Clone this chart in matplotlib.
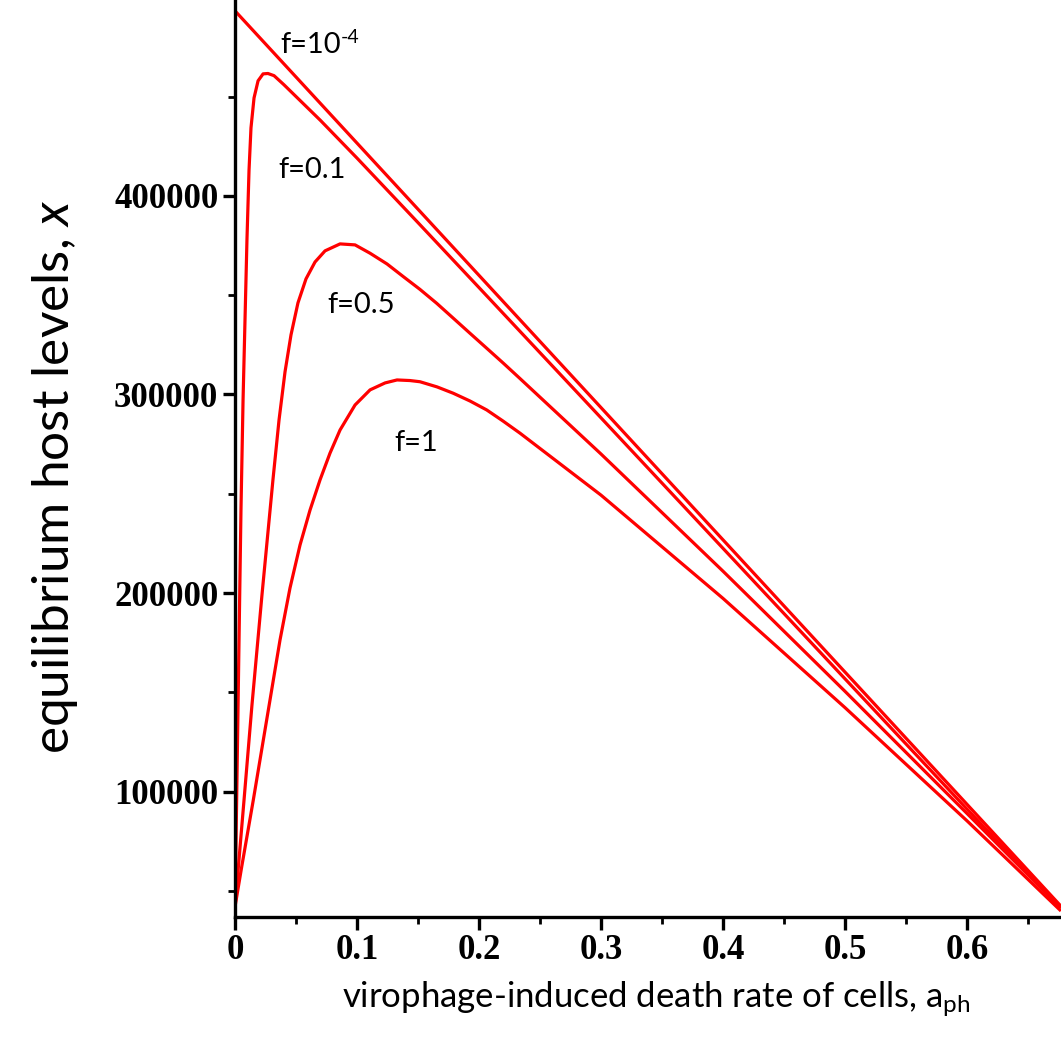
import matplotlib
matplotlib.use("Agg")
import matplotlib.pyplot as plt
from matplotlib.ticker import MultipleLocator

plt.rcParams["mathtext.fontset"] = "custom"
plt.rcParams["mathtext.rm"] = "Lato"
plt.rcParams["mathtext.it"] = "Lato:italic"

# ---- data ----
a_f0001 = [0.0, 0.0002, 0.676]
x_f0001 = [42000, 493000, 43000]

a_f01 = [0.0, 0.0016, 0.0033, 0.0049, 0.0066, 0.0082, 0.0098, 0.0115, 0.0131, 0.0156,
         0.0189, 0.023, 0.027, 0.032, 0.04, 0.05, 0.07, 0.1, 0.15, 0.2, 0.25, 0.3,
         0.4, 0.5, 0.6, 0.676]
x_f01 = [42000, 105900, 176400, 241900, 297200, 337500, 377800, 413000, 434200, 449300,
         457900, 461400, 461600, 460500, 456000, 450000, 438000, 419000, 386500, 353800,
         321000, 288200, 222500, 156800, 91200, 42000]

a_f05 = [0.0, 0.0074, 0.0139, 0.0221, 0.0311, 0.0361, 0.041, 0.0459, 0.0516, 0.0582,
         0.0656, 0.0738, 0.0861, 0.0984, 0.1107, 0.1246, 0.138, 0.1516, 0.1653, 0.1787,
         0.1926, 0.2066, 0.22, 0.2336, 0.3, 0.4, 0.5, 0.6, 0.676]
x_f05 = [42000, 95800, 143600, 199000, 257000, 287200, 311400, 330000, 346100, 358200,
         366700, 372300, 375800, 375300, 371100, 365700, 359300, 352900, 345900, 338500,
         330800, 323100, 315700, 308000, 270000, 211000, 150500, 89000, 42000]

a_f1 = [0.0, 0.0055, 0.015, 0.0287, 0.0369, 0.0451, 0.0533, 0.0615, 0.0697, 0.0779,
        0.0861, 0.0984, 0.1107, 0.123, 0.1328, 0.1434, 0.1516, 0.1656, 0.1789, 0.1926,
        0.2063, 0.2197, 0.2336, 0.3, 0.4, 0.5, 0.6, 0.676]
x_f1 = [42000, 62200, 95800, 146200, 176400, 202600, 224200, 241800, 257000, 270500,
        282100, 294700, 302300, 305800, 307300, 307000, 306400, 303800, 300600, 296700,
        292200, 286600, 280500, 249300, 197300, 142300, 85300, 40500]

series = [(a_f0001, x_f0001), (a_f01, x_f01), (a_f05, x_f05), (a_f1, x_f1)]

labels = ["f=10", "f=0.1", "f=0.5", "f=1"]
label_pos = [(0.0369, 476000), (0.0352, 413000), (0.0754, 345000), (0.131, 275600)]
exponent = "-4"

xticks = [0, 0.1, 0.2, 0.3, 0.4, 0.5, 0.6]
xticklabels = ["0", "0.1", "0.2", "0.3", "0.4", "0.5", "0.6"]
yticks = [100000, 200000, 300000, 400000]
yticklabels = ["100000", "200000", "300000", "400000"]

# ---- figure ----
fig = plt.figure(figsize=(10.61, 10.37), dpi=100)
ax = fig.add_axes([235 / 1061, 120 / 1037, 1 - 235 / 1061, 917 / 1037])

for a, x in series:
    ax.plot(a, x, color="#ff0000", lw=2.3, zorder=2, solid_joinstyle="round")

ax.set_xlim(0, 0.677)
ax.set_ylim(36900, 498600)

for s in ["top", "right"]:
    ax.spines[s].set_visible(False)
for s in ["left", "bottom"]:
    ax.spines[s].set_linewidth(2.4)
    ax.spines[s].set_zorder(5)

ax.set_xticks(xticks)
ax.set_xticklabels(xticklabels)
ax.set_yticks(yticks)
ax.set_yticklabels(yticklabels)
ax.xaxis.set_minor_locator(MultipleLocator(0.05))
ax.yaxis.set_minor_locator(MultipleLocator(50000))
ax.tick_params(which="major", direction="out", length=9, width=2.4, pad=3)
ax.tick_params(which="minor", direction="out", length=5, width=2.0)

for lab in ax.get_xticklabels() + ax.get_yticklabels():
    lab.set_fontfamily("Liberation Serif")
    lab.set_fontweight("bold")
    lab.set_fontsize(25)

txtfont = ["Lato", "DejaVu Sans"]
texts = []
for t, (xa, ya) in zip(labels, label_pos):
    texts.append(ax.text(xa, ya, t, ha="left", va="center", fontsize=21, family=txtfont))
ax.annotate(exponent, xy=(1.0, 0.78), xycoords=texts[0], ha="left", va="center",
            fontsize=14, family=txtfont)

fig.text(0.052, 0.54, "equilibrium host levels, $\\mathit{x}$", rotation=90,
         ha="center", va="center", fontsize=37, family=txtfont)
fig.text(0.619, 0.036, "virophage-induced death rate of cells, a$_{\\mathrm{ph}}$",
         ha="center", va="center", fontsize=25, family=txtfont)

fig.savefig("out.png", dpi=100)
